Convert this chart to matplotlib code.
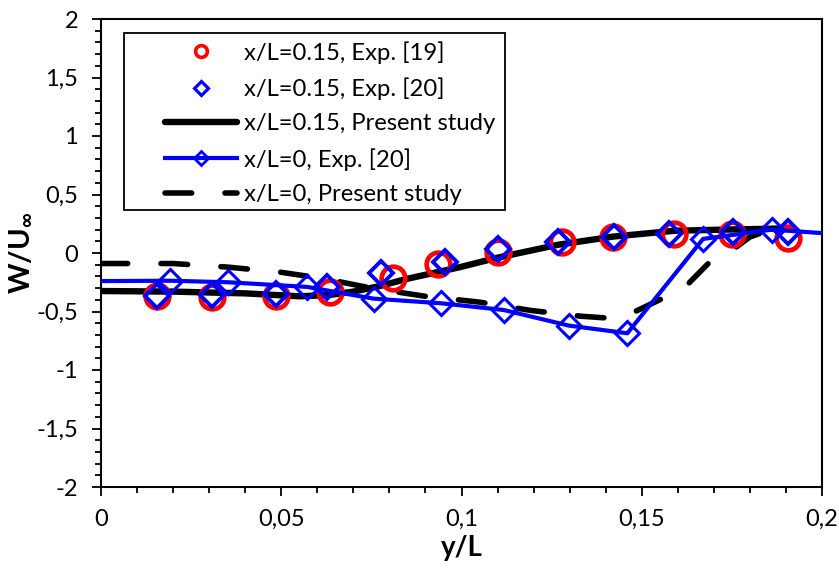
import matplotlib
matplotlib.use("Agg")
import matplotlib.pyplot as plt
from matplotlib.lines import Line2D
from matplotlib.patches import Rectangle
from matplotlib.ticker import MultipleLocator, FuncFormatter

plt.rcParams['font.family'] = ['Lato', 'DejaVu Sans']
plt.rcParams['mathtext.fontset'] = 'custom'
plt.rcParams['mathtext.rm'] = 'Lato'
plt.rcParams['mathtext.bf'] = 'Lato:bold'

# x/L=0.15, Exp. [19]
y_exp19 = [0.0156, 0.0308, 0.0486, 0.0636, 0.0811, 0.0936, 0.110, 0.128, 0.142, 0.159, 0.175, 0.1906]
w_exp19 = [-0.37, -0.38, -0.37, -0.33, -0.21, -0.09, 0.01, 0.09, 0.14, 0.165, 0.165, 0.13]

# x/L=0.15, Exp. [20]
y_exp20a = [0.0156, 0.0308, 0.0486, 0.0628, 0.0778, 0.0953, 0.110, 0.1269, 0.1422, 0.1575, 0.1753, 0.1906]
w_exp20a = [-0.37, -0.36, -0.35, -0.29, -0.17, -0.08, 0.03, 0.09, 0.14, 0.165, 0.18, 0.18]

# x/L=0.15, Present study
y_pres15 = [0, 0.02, 0.04, 0.055, 0.063, 0.07, 0.077, 0.085, 0.0997, 0.11, 0.1267, 0.142, 0.159, 0.173, 0.19]
w_pres15 = [-0.325, -0.33, -0.345, -0.37, -0.36, -0.33, -0.285, -0.22, -0.12, -0.04, 0.07, 0.14, 0.19, 0.2, 0.21]

# x/L=0, Exp. [20]
y_exp20b = [0, 0.0192, 0.0353, 0.0572, 0.0756, 0.0944, 0.1117, 0.1297, 0.146, 0.167, 0.186, 0.2]
w_exp20b = [-0.24, -0.237, -0.25, -0.29, -0.39, -0.43, -0.487, -0.62, -0.686, 0.12, 0.2, 0.17]

# x/L=0, Present study
y_pres0 = [0, 0.02, 0.035, 0.05, 0.062, 0.075, 0.09, 0.105, 0.119, 0.133, 0.140, 0.1475, 0.157, 0.163, 0.1686, 0.174, 0.180, 0.1867, 0.19]
w_pres0 = [-0.09, -0.09, -0.12, -0.165, -0.22, -0.30, -0.37, -0.42, -0.49, -0.54, -0.555, -0.51, -0.37, -0.26, -0.085, 0.0, 0.137, 0.21, 0.22]

labels = ["x/L=0.15, Exp. [19]", "x/L=0.15, Exp. [20]", "x/L=0.15, Present study",
          "x/L=0, Exp. [20]", "x/L=0, Present study"]

RED = (1, 0, 0)
BLUE = (0, 0, 1)

fig = plt.figure(figsize=(8.39, 5.68), dpi=100)
ax = fig.add_axes([101/839, 1-487/568, 721/839, 468/568])

ax.plot(y_pres15, w_pres15, color='black', lw=4.6, solid_capstyle='round', zorder=2)
ax.plot(y_pres0, w_pres0, color='black', lw=4.0, dashes=(4.8, 6.0), dash_capstyle='round', zorder=2.2)
ax.plot(y_exp19, w_exp19, ls='none', marker='o', ms=17, mfc='none', mec=RED, mew=3.4, zorder=3)
ax.plot(y_exp20b, w_exp20b, color=BLUE, lw=3.0, marker='D', ms=12.5, mfc='none', mec=BLUE, mew=2.2,
        markevery=slice(1, len(y_exp20b) - 1), zorder=3.5)
ax.plot(y_exp20a, w_exp20a, ls='none', marker='D', ms=12.5, mfc='none', mec=BLUE, mew=2.8, zorder=4)

ax.set_xlim(0, 0.2)
ax.set_ylim(-2, 2)
ax.xaxis.set_major_locator(MultipleLocator(0.05))
ax.xaxis.set_minor_locator(MultipleLocator(0.01))
ax.yaxis.set_major_locator(MultipleLocator(0.5))
ax.yaxis.set_minor_locator(MultipleLocator(0.1))

def fmt(v, pos):
    return ('%g' % round(v, 4)).replace('.', ',')
ax.xaxis.set_major_formatter(FuncFormatter(fmt))
ax.yaxis.set_major_formatter(FuncFormatter(fmt))

ax.tick_params(which='major', direction='out', length=6.5, width=1.3, labelsize=17, color='black')
ax.tick_params(axis='y', which='major', pad=10)
ax.tick_params(axis='x', which='major', pad=9)
ax.tick_params(which='minor', direction='out', length=4.3, width=1.3, color='black')
for sp in ax.spines.values():
    sp.set_linewidth(1.5)
    sp.set_color('black')

ax.set_xlabel('y/L', fontsize=20, fontweight='bold', labelpad=4)
ax.set_ylabel(r'$\mathbf{W/U}_{\mathbf{\infty}}$', fontsize=21, labelpad=2)

handles = [
    Line2D([], [], ls='none', marker='o', ms=8.5, mfc='none', mec=RED, mew=2.6),
    Line2D([], [], ls='none', marker='D', ms=7.5, mfc='none', mec=BLUE, mew=2.3),
    Line2D([], [], color='black', lw=4.6, solid_capstyle='round'),
    Line2D([], [], color=BLUE, lw=3.0, marker='D', ms=7.5, mfc='none', mec=BLUE, mew=2.0),
    Line2D([], [], color='black', lw=4.0, dashes=(4.8, 6.0), dash_capstyle='round'),
]
leg = ax.legend(handles, labels, loc='upper left',
                bbox_to_anchor=((165 - 101) / 721, (487 - 41) / 468),
                borderaxespad=0, borderpad=0, fontsize=17.2, handlelength=3.0,
                handletextpad=0.3, labelspacing=0.57, frameon=False)
ax.add_patch(Rectangle(((124 - 101) / 721, (487 - 210) / 468), 381 / 721, 177 / 468,
                       transform=ax.transAxes, fill=False, ec='black', lw=1.3, zorder=5))

fig.savefig('out.png', dpi=100)
